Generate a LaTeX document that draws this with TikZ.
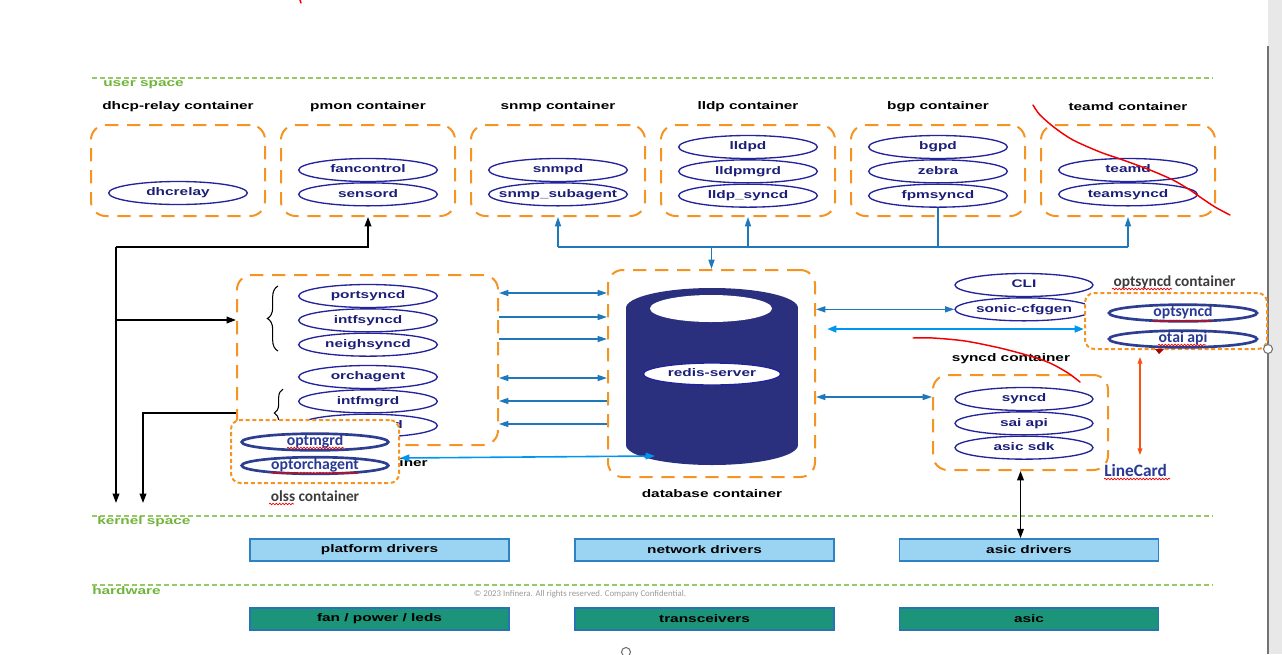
\documentclass[tikz,border=0pt]{standalone}
\usepackage{fontspec}
\usepackage{tikz}
\usetikzlibrary{arrows.meta,positioning,shapes.geometric,
  decorations.pathreplacing,decorations.pathmorphing}
\newfontfamily\arl{Liberation Sans}[FakeStretch=1.4]
\newfontfamily\carl{Carlito}
\definecolor{orng}{RGB}{246,148,35}
\definecolor{navyline}{RGB}{35,35,155}
\definecolor{navytext}{RGB}{28,30,120}
\definecolor{dbnavy}{RGB}{42,48,125}
\definecolor{optline}{RGB}{45,62,145}
\definecolor{opttext}{RGB}{40,58,150}
\definecolor{linkA}{RGB}{30,120,185}
\definecolor{linkB}{RGB}{0,150,240}
\definecolor{layerln}{RGB}{150,200,100}
\definecolor{layertx}{RGB}{112,180,60}
\definecolor{drvfill}{RGB}{155,211,242}
\definecolor{drvline}{RGB}{45,130,195}
\definecolor{hwfill}{RGB}{27,148,122}
\definecolor{hwline}{RGB}{40,115,180}
\definecolor{lcred}{RGB}{250,80,20}
\definecolor{scrib}{RGB}{240,0,0}
\definecolor{graytx}{RGB}{60,60,60}
\newcommand{\tfont}{\arl\bfseries\fontsize{8.25}{9.5}\selectfont}
\newcommand{\cfont}{\carl\bfseries\fontsize{11.8}{13}\selectfont}
\tikzset{
  ctr/.style={draw=orng,line width=1.5pt,dash pattern=on 10pt off 6.5pt,rounded corners=11pt,inner sep=0pt},
  tctr/.style={ctr,minimum width=130.5pt,minimum height=68.25pt},
  octr/.style={draw=orng,line width=1.5pt,dash pattern=on 3pt off 2pt,rounded corners=7pt,fill=white,inner sep=0pt},
  proc/.style={ellipse,draw=navyline,line width=1pt,fill=white,minimum width=104pt,minimum height=17.25pt,
    inner xsep=-12pt,inner ysep=0pt,font=\tfont,text=navytext,text height=6pt,text depth=1.6pt},
  oproc/.style={ellipse,draw=optline,line width=2pt,fill=white,minimum width=110pt,minimum height=12.5pt,
    inner xsep=0pt,inner ysep=-4pt,font=\cfont,text=opttext,text height=8pt,text depth=2.5pt},
  ttl/.style={font=\tfont,inner sep=0pt},
  lyr/.style={font=\tfont,text=layertx,anchor=west,inner sep=0pt},
  drv/.style={draw=drvline,line width=1.2pt,fill=drvfill,minimum width=194pt,minimum height=16.5pt,inner sep=0pt,font=\tfont},
  hw/.style={drv,draw=hwline,fill=hwfill},
  glbl/.style={font=\carl\bfseries\fontsize{11.5}{13}\selectfont,text=graytx,inner sep=0pt},
  layer/.style={draw=layerln,line width=1.1pt,dash pattern=on 3.5pt off 2.5pt},
  link/.style={draw=linkA,line width=1.1pt},
  arr/.style={link,-{Triangle[length=7pt,width=4.5pt]}},
  darr/.style={link,{Triangle[length=7pt,width=4.5pt]}-{Triangle[length=7pt,width=4.5pt]}},
  barr/.style={{Triangle[length=7pt,width=5pt]}-{Triangle[length=7pt,width=5pt]},line width=1.9pt,draw=linkB},
  tbarr/.style={barr,line width=1.2pt},
  karr/.style={-{Triangle[length=7pt,width=5pt]},line width=1.1pt,black},
  kdarr/.style={{Triangle[length=7pt,width=5pt]}-{Triangle[length=7pt,width=5pt]},line width=1.1pt,black},
  lcarr/.style={{Triangle[length=5pt,width=3.5pt]}-{Triangle[length=5pt,width=3.5pt]},line width=0.9pt,draw=lcred},
  squig/.style={draw=scrib,line width=0.5pt,decorate,decoration={snake,amplitude=0.6pt,segment length=2.4pt}},
  scribble/.style={draw=scrib,line width=1.1pt,line cap=round,line join=round},
}

\begin{document}
\begin{tikzpicture}[x=0.75pt,y=-0.75pt,node distance=0pt]
\useasboundingbox (0,0) rectangle (1282,654);
\fill[black!9] (1268,0) rectangle (1282,654);
\draw[black!55,line width=0.8pt] (1268,46) -- (1268,654);

% layers
\draw[layer] (92,78) -- (1213,78);
\draw[layer] (92,516) -- (1213,516);
\draw[layer] (92,585) -- (1213,585);
\node[lyr] (uspace) at (103,85) {user space};
\node[lyr] (kspace) at (97,522) {kernel space};
\node[lyr] (hwsp) at (92,591) {hardware};

% user space containers
\node[tctr] (dhcpC) at (178,170.5) {};
\node[tctr] (pmonC) at (368,170.5) {};
\node[tctr] (snmpC) at (558,170.5) {};
\node[tctr] (lldpC) at (748,170.5) {};
\node[tctr] (bgpC) at (938,170.5) {};
\node[tctr] (teamdC) at (1128,170.5) {};
\node[ttl] (dhcpT) at (178,107) {dhcp-relay container};
\node[ttl] (pmonT) at (368,107) {pmon container};
\node[ttl] (snmpT) at (558,107) {snmp container};
\node[ttl] (lldpT) at (748,107) {lldp container};
\node[ttl] (bgpT) at (938,107) {bgp container};
\node[ttl] (teamdT) at (1128,107) {teamd container};

\node[proc] (dhcrelay) at (178,193) {dhcrelay};
\node[proc] (fanctl) at (368,170) {fancontrol};
\node[proc,below=of fanctl] (sensord) {sensord};
\node[proc] (snmpd) at (558,170) {snmpd};
\node[proc,below=of snmpd] (subagent) {snmp\_subagent};
\node[proc] (lldpd) at (748,147) {lldpd};
\node[proc,below=of lldpd] (lldpmgrd) {lldpmgrd};
\node[proc,below=of lldpmgrd] (lldpsync) {lldp\_syncd};
\node[proc] (bgpd) at (938,147) {bgpd};
\node[proc,below=of bgpd] (zebra) {zebra};
\node[proc,below=of zebra] (fpm) {fpmsyncd};
\node[proc] (teamd) at (1128,170) {teamd};
\node[proc,below=of teamd] (teamsync) {teamsyncd};

% swss
\node[ctr,minimum width=195.75pt,minimum height=127.5pt] (swssC) at (367.5,360) {};
\node[ttl,anchor=east] (swssT) at (428,463) {iner};
\node[proc] (portsync) at (368,296) {portsyncd};
\node[proc,below=of portsync] (intfsync) {intfsyncd};
\node[proc,below=of intfsync] (neighsync) {neighsyncd};
\node[proc] (orch) at (368,377) {orchagent};
\node[proc,below=of orch] (intfmgr) {intfmgrd};
\node[proc,below=of intfmgr] (vlanmgr) {vlanmgrd};
\draw[line width=0.8pt,decorate,decoration={brace,amplitude=8pt}] (278,351) -- (278,286);
\draw[line width=0.8pt,decorate,decoration={brace,amplitude=6.5pt}] (283,437) -- (283,389);

% olss
\node[octr,minimum width=126pt,minimum height=47.25pt] (olssC) at (315,451.5) {};
\node[oproc] (optmgrd) at (315,442) {optmgrd};
\node[oproc] (optorch) at (315,465.5) {optorchagent};
\node[glbl] (olssT) at (315,496) {olss container};

% database
\node[ctr,minimum width=155.25pt,minimum height=155.25pt] (dbC) at (711.5,373.5) {};
\fill[dbnavy] (626,308) rectangle (798,445);
\fill[dbnavy] (712,445) ellipse [x radius=86,y radius=20];
\fill[dbnavy] (712,308) ellipse [x radius=86,y radius=20];
\fill[white] (711,308.5) ellipse [x radius=61,y radius=13.5];
\node[proc,minimum width=103pt,minimum height=16.5pt] (redis) at (712,374) {redis-server};
\node[ttl] (dbT) at (712,494) {database container};
\coordinate (dbIn) at (655,456);

% right side
\node[proc,minimum width=103.5pt] (cli) at (1024,285) {CLI};
\node[proc,minimum width=103.5pt,below=of cli] (cfggen) {sonic-cfggen};
\node[octr,minimum width=136.5pt,minimum height=42pt] (optC) at (1176,321) {};
\node[oproc,minimum width=111pt] (optsyncd) at (1183,313) {optsyncd};
\node[oproc,minimum width=111pt] (otai) at (1183,339) {otai api};
\node[glbl] (optT) at (1174.5,282) {optsyncd container};
\node[ctr,minimum width=131.25pt,minimum height=71.25pt] (syncdC) at (1020.5,422.5) {};
\node[ttl] (syncdT) at (1011,359) {syncd container};
\node[proc,minimum width=103.5pt] (syncd) at (1024,399) {syncd};
\node[proc,minimum width=103.5pt,below=of syncd] (saiapi) {sai api};
\node[proc,minimum width=103.5pt,below=of saiapi] (asicsdk) {asic sdk};
\node[font=\carl\bfseries\fontsize{13}{14}\selectfont,text=opttext,anchor=west,inner sep=0pt] (lc) at (1104,470) {LineCard};

% kernel and hardware
\node[drv] (platdrv) at (379.5,550) {platform drivers};
\node[drv] (netdrv) at (704.5,550) {network drivers};
\node[drv] (asicdrv) at (1029,550) {asic drivers};
\node[hw] (fan) at (379.5,619) {fan / power / leds};
\node[hw] (xcvr) at (704.5,619) {transceivers};
\node[hw] (asic) at (1029,619) {asic};
\node[font=\carl\fontsize{6.6}{7}\selectfont,text=black!40,inner sep=0pt] (copy) at (580,594)
  {\textcopyright{} 2023 Infinera. All rights reserved. Company Confidential.};

% connectors
\coordinate (bus) at (0,247);
\draw[link] (snmpC.south |- bus) -- (teamdC.south |- bus);
\draw[arr] (snmpC.south |- bus) -- (snmpC.south);
\draw[arr] (lldpC.south |- bus) -- (lldpC.south);
\draw[link] (fpm.south) -- (fpm.south |- bus);
\draw[arr] (teamdC.south |- bus) -- (teamdC.south);
\draw[arr] (dbC.north |- bus) -- (dbC.north);

\draw[darr] (swssC.east |- 0,293) -- (dbC.west |- 0,293);
\draw[arr] (swssC.east |- 0,317) -- (dbC.west |- 0,317);
\draw[arr] (swssC.east |- 0,339) -- (dbC.west |- 0,339);
\draw[darr] (swssC.east |- 0,378) -- (dbC.west |- 0,378);
\draw[arr] (dbC.west |- 0,401) -- (swssC.east |- 0,401);
\draw[arr] (dbC.west |- 0,424) -- (swssC.east |- 0,424);
\draw[tbarr] (olssC.east |- 0,458) -- (dbIn);

\draw[darr] (dbC.east |- cfggen.west) -- (cfggen.west);
\coordinate (dbR) at (827,329);
\draw[barr] (dbR) -- (dbR -| optC.west);
\draw[darr] (dbC.east |- 0,397) -- (syncdC.west |- 0,397);
\coordinate (lcA) at (1140,357);
\coordinate (lcB) at (1140,455);
\draw[lcarr] (lcA) -- (lcB);
\fill[red!70!black] (1155,349) -- (1164,349) -- (1159,354) -- cycle;
\draw[kdarr] (syncdC.south) -- (syncdC.south |- asicdrv.north);

\coordinate (k1) at (116,503);
\coordinate (k2) at (143,503);
\draw[karr] (k1 |- bus) -- (pmonC.south |- bus) -- (pmonC.south);
\draw[karr] (k1 |- bus) -- (k1);
\draw[karr] (k1 |- 0,320) -- (swssC.west |- 0,320);
\draw[karr] (swssC.west |- 0,413) -| (k2);

% spell marks and pen strokes
\draw[squig] (287,448) -- (344,448);
\draw[squig] (271,473) -- (358,473);
\draw[squig] (269,504) -- (294,504);
\draw[squig] (1112,289) -- (1172,289);
\draw[squig] (1153,321) -- (1212,321);
\draw[squig] (1158,345) -- (1206,345);
\draw[squig] (1104,479) -- (1170,479);
\draw[scribble] plot[smooth] coordinates {(1033,105) (1040,115) (1055,128) (1073,140) (1100,152)
  (1123,160) (1150,170) (1173,180) (1190,190) (1200,197) (1215,207) (1230,215)};
\draw[scribble] plot[smooth] coordinates {(913,338) (933,338) (965,341) (1000,348) (1030,356)
  (1050,363) (1068,373) (1080,382)};
\draw[scribble] (300,0) -- (301,3);
\draw[black!55,fill=white,line width=0.8pt] (1268,349) circle (4.5);
\draw[black!55,fill=white,line width=0.8pt] (626,652) circle (4.5);
\end{tikzpicture}
\end{document}
